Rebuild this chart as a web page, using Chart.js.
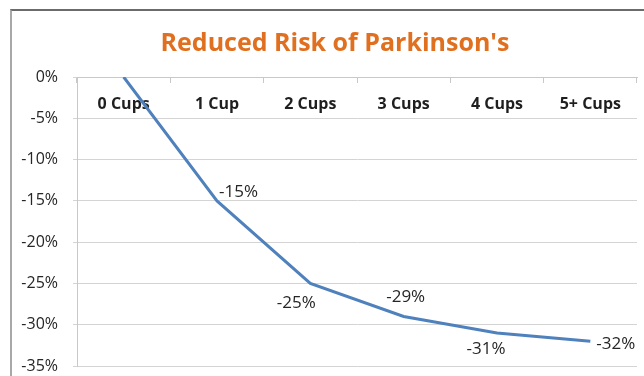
<!DOCTYPE html>
<html>
<head>
<meta charset="utf-8">
<script src="https://cdn.jsdelivr.net/npm/chart.js@4/dist/chart.umd.min.js"></script>
<style>
  html, body { margin: 0; padding: 0; background: #fff; overflow: hidden; width: 644px; height: 376px; }
  #stage { position: relative; width: 644px; height: 376px; overflow: hidden; }
  #frame {
    position: absolute; left: 10px; top: 9px; width: 700px; height: 420px;
    border-top: 2px solid #6b6b6b; border-left: 2px solid #a8a8a8;
    background: #fff;
  }
  #wrap { position: absolute; left: 0; top: 0; width: 670px; height: 376px; }
  #chart { display: block; }
</style>
</head>
<body>
<div id="stage">
  <div id="frame"></div>
  <div id="wrap"><canvas id="chart" width="670" height="376"></canvas></div>
</div>
<script>
// Cups of coffee per day
const categories = ['0 Cups', '1 Cup', '2 Cups', '3 Cups', '4 Cups', '5+ Cups'];
// Change in risk (%)
const riskChange = [0, -15, -25, -29, -31, -32];
// Vertical axis ticks (%)
const yTicks = [0, -5, -10, -15, -20, -25, -30, -35];

const FONT = '"Open Sans", "DejaVu Sans", sans-serif';

// Value labels next to each point; dx/dy are pixel nudges from the point.
const valueLabels = {
  id: 'valueLabels',
  afterDatasetsDraw(chart, args, opts) {
    const ctx = chart.ctx;
    const meta = chart.getDatasetMeta(0);
    const data = chart.data.datasets[0].data;
    ctx.save();
    ctx.font = '17px ' + FONT;
    ctx.fillStyle = '#262626';
    ctx.textBaseline = 'middle';
    meta.data.forEach((pt, i) => {
      const place = opts.placement[i];
      if (!place) return;
      ctx.textAlign = place.align;
      ctx.fillText(data[i] + '%', pt.x + place.dx, pt.y + place.dy);
    });
    ctx.restore();
  }
};

new Chart(document.getElementById('chart'), {
  type: 'line',
  data: {
    labels: categories,
    datasets: [{
      data: riskChange,
      borderColor: '#4f81bd',
      borderWidth: 3,
      pointRadius: 0,
      tension: 0,
      fill: false
    }]
  },
  options: {
    responsive: false,
    animation: false,
    devicePixelRatio: 1,
    layout: { padding: { left: 0, right: 0, top: 0, bottom: 10 } },
    plugins: {
      legend: { display: false },
      tooltip: { enabled: false },
      title: {
        display: true,
        text: "Reduced Risk of Parkinson's",
        color: '#e0701f',
        font: { family: FONT, size: 25, weight: 'bold', lineHeight: 1.2 },
        padding: { top: 29, bottom: 18 }
      },
      valueLabels: {
        placement: [
          null,
          { align: 'left', dx: 2, dy: -9 },
          { align: 'center', dx: -14, dy: 20 },
          { align: 'center', dx: 2, dy: -19 },
          { align: 'center', dx: -11, dy: 16 },
          { align: 'left', dx: 6, dy: 3 }
        ]
      }
    },
    scales: {
      x: {
        type: 'category',
        position: { y: 0 },
        offset: true,
        afterFit(scale) { scale.height = 0; },
        grid: {
          offset: true,
          drawOnChartArea: false,
          drawTicks: true,
          tickLength: 5,
          color: '#c8c8c8'
        },
        border: { display: true, color: '#c8c8c8', width: 1 },
        ticks: {
          color: '#1f1f1f',
          font: { family: FONT, size: 16, weight: 'bold' },
          padding: 13,
          maxRotation: 0,
          autoSkip: false
        }
      },
      y: {
        min: Math.min(...yTicks),
        max: Math.max(...yTicks),
        afterFit(scale) {
          scale.width = 77;
          // labels may overhang the plot's top and bottom edges
          scale.paddingTop = 0;
          scale.paddingBottom = 0;
        },
        afterBuildTicks(scale) { scale.ticks = yTicks.map(v => ({ value: v })); },
        grid: { color: '#d4d4d4', lineWidth: 1, tickLength: 4 },
        border: { display: true, color: '#c8c8c8', width: 1 },
        ticks: {
          color: '#262626',
          font: { family: FONT, size: 16 },
          padding: 15,
          callback: v => v + '%'
        }
      },
      // empty right-hand gutter so the plot stops short of the frame edge
      gutter: {
        type: 'linear',
        axis: 'y',
        position: 'right',
        display: true,
        afterFit(scale) { scale.width = 33; },
        grid: { display: false, drawTicks: false },
        border: { display: false },
        ticks: { display: false }
      }
    }
  },
  plugins: [valueLabels]
});
</script>
</body>
</html>
